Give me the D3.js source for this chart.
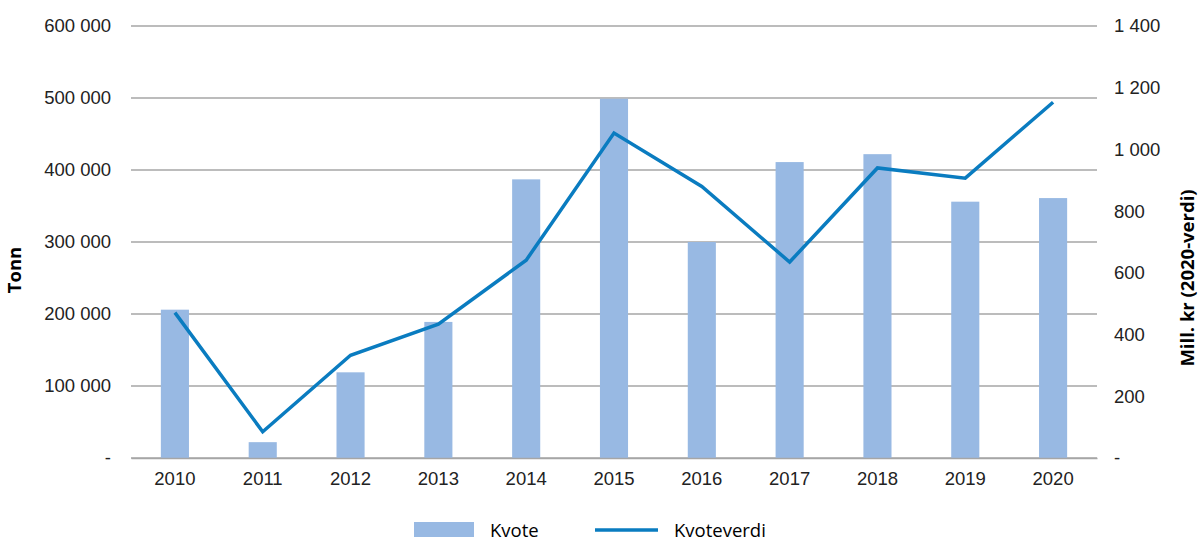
<!DOCTYPE html>
<meta charset="utf-8">
<head>
<script src="https://d3js.org/d3.v7.min.js"></script>
<style>
  body { margin: 0; background: #fff; font-family: "Open Sans", sans-serif; }
  .tick text { fill: #222; }
</style>
</head>
<body>
<div id="chart"></div>
<script>

// data
var years = ["2010","2011","2012","2013","2014","2015","2016","2017","2018","2019","2020"];
var kvote = [206000, 22000, 119000, 189000, 387000, 499000, 300000, 411000, 422000, 356000, 361000];
var kvoteverdi = [471, 85, 333, 434, 641, 1053, 880, 635, 940, 907, 1153];
var leftTicks = [0, 100000, 200000, 300000, 400000, 500000, 600000];
var rightTicks = [0, 200, 400, 600, 800, 1000, 1200, 1400];

var W = 1200, H = 558;
var margin = {top: 26, right: 103, bottom: 100, left: 131};
var width = W - margin.left - margin.right,
    height = H - margin.top - margin.bottom;
var fs = "18.5px";

var svg = d3.select("#chart").append("svg")
    .attr("width", W).attr("height", H)
  .append("g")
    .attr("transform", "translate(" + margin.left + "," + margin.top + ")");

var fmt = function(d) {
  if (d === 0) return "-";
  return d3.format(",")(d).replace(/,/g, " ");
};

var x = d3.scaleBand().domain(years).range([0, width]).paddingInner(0.68).paddingOuter(0.34);
var yL = d3.scaleLinear().domain([0, 600000]).range([height, 0]);
var yR = d3.scaleLinear().domain([0, 1400]).range([height, 0]);

// gridlines
svg.append("g").selectAll("line")
  .data(leftTicks)
  .enter().append("line")
    .attr("x1", 0).attr("x2", width)
    .attr("y1", function(d) { return yL(d); })
    .attr("y2", function(d) { return yL(d); })
    .attr("stroke", "#a6a6a6")
    .attr("stroke-width", 1.3);

// left axis
var gl = svg.append("g")
  .call(d3.axisLeft(yL).tickValues(leftTicks).tickFormat(fmt).tickSize(0).tickPadding(20));
gl.select(".domain").remove();
gl.selectAll("text").style("font-size", fs);

// right axis
var gr = svg.append("g")
  .attr("transform", "translate(" + width + ",0)")
  .call(d3.axisRight(yR).tickValues(rightTicks).tickFormat(fmt).tickSize(0).tickPadding(17));
gr.select(".domain").remove();
gr.selectAll("text").style("font-size", fs);

// bars
svg.selectAll(".bar")
  .data(years)
  .enter().append("rect")
    .attr("class", "bar")
    .attr("x", function(d) { return x(d); })
    .attr("width", x.bandwidth())
    .attr("y", function(d, i) { return yL(kvote[i]); })
    .attr("height", function(d, i) { return height - yL(kvote[i]); })
    .attr("fill", "#98b9e3");

// x axis
var gx = svg.append("g")
  .attr("transform", "translate(0," + height + ")")
  .call(d3.axisBottom(x).tickSize(0).tickPadding(14));
gx.select(".domain").attr("stroke", "#a6a6a6").attr("stroke-width", 1.3);
gx.selectAll("text").style("font-size", fs);

// line
var line = d3.line()
  .x(function(d, i) { return x(years[i]) + x.bandwidth() / 2; })
  .y(function(d) { return yR(d); });
svg.append("path")
  .datum(kvoteverdi)
  .attr("d", line)
  .attr("fill", "none")
  .attr("stroke", "#0a7cc0")
  .attr("stroke-width", 3.5)
  .attr("stroke-linejoin", "miter");

// axis titles
svg.append("text")
  .attr("transform", "translate(" + (-margin.left + 21) + "," + (height / 2 + 28) + ") rotate(-90)")
  .style("text-anchor", "middle")
  .style("font-size", fs)
  .style("font-weight", "bold")
  .text("Tonn");

svg.append("text")
  .attr("transform", "translate(" + (width + 97) + "," + (height / 2 + 36) + ") rotate(-90)")
  .style("text-anchor", "middle")
  .style("font-size", fs)
  .style("font-weight", "bold")
  .text("Mill. kr (2020-verdi)");

// legend
var lg = svg.append("g").attr("transform", "translate(0," + (height + 64) + ")");
lg.append("rect")
  .attr("x", 414 - margin.left).attr("y", 0)
  .attr("width", 60).attr("height", 15)
  .attr("fill", "#98b9e3");
lg.append("text")
  .attr("x", 490 - margin.left).attr("y", 15)
  .style("font-size", fs)
  .text("Kvote");
lg.append("line")
  .attr("x1", 595 - margin.left).attr("x2", 658 - margin.left)
  .attr("y1", 8).attr("y2", 8)
  .attr("stroke", "#0a7cc0").attr("stroke-width", 3.5);
lg.append("text")
  .attr("x", 674 - margin.left).attr("y", 15)
  .style("font-size", fs)
  .text("Kvoteverdi");

</script>
</body>
